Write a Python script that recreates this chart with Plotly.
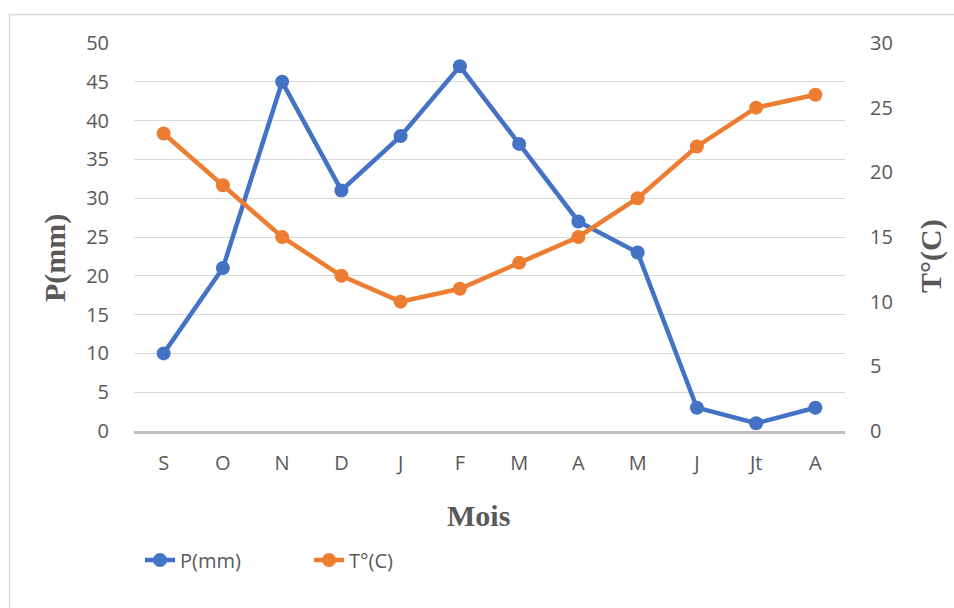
import plotly.graph_objects as go

# Monthly values (hydrological year, September to August)
months = ["S", "O", "N", "D", "J", "F", "M", "A", "M", "J", "Jt", "A"]
precip_mm = [10, 21, 45, 31, 38, 47, 37, 27, 23, 3, 1, 3]
temp_c = [23, 19, 15, 12, 10, 11, 13, 15, 18, 22, 25, 26]

p_ticks = [0, 5, 10, 15, 20, 25, 30, 35, 40, 45, 50]
t_ticks = [0, 5, 10, 15, 20, 25, 30]

BLUE = "#4472C4"
ORANGE = "#ED7D31"
TEXT = "#595959"
GRID = "#D9D9D9"

W, H = 954, 608
L, R, T, B = 134, 845, 43, 431  # plot area in pixels

x_idx = list(range(len(months)))

fig = go.Figure()
fig.add_trace(go.Scatter(
    x=x_idx, y=precip_mm, name="P(mm)", mode="lines+markers",
    line=dict(color=BLUE, width=4.5), marker=dict(color=BLUE, size=14),
    yaxis="y",
))
fig.add_trace(go.Scatter(
    x=x_idx, y=temp_c, name="T°(C)", mode="lines+markers",
    line=dict(color=ORANGE, width=4.5), marker=dict(color=ORANGE, size=14),
    yaxis="y2",
))


def px_x(px):
    return (px - L) / (R - L)


def px_y(py):
    return (B - py) / (B - T)


font = dict(family="Open Sans, Noto Sans, sans-serif", size=20, color=TEXT)
title_font = dict(family="Liberation Serif, Times New Roman, serif", size=30, color=TEXT)

fig.update_layout(
    width=W, height=H,
    margin=dict(l=L, r=W - R, t=T, b=H - B, pad=0),
    paper_bgcolor="white", plot_bgcolor="white",
    font=font,
    hovermode=False,
    showlegend=True,
    legend=dict(
        orientation="h", x=px_x(140), xanchor="left", y=px_y(560), yanchor="middle",
        font=font, bgcolor="rgba(0,0,0,0)", entrywidth=124, entrywidthmode="pixels",
        itemclick=False, itemdoubleclick=False,
    ),
    xaxis=dict(
        range=[-0.5, len(months) - 0.5], tickmode="array", tickvals=x_idx, ticktext=months,
        showgrid=False, zeroline=False, showline=True, linecolor="#BFBFBF", linewidth=3,
        ticks="outside", ticklen=12, tickcolor="rgba(0,0,0,0)", tickfont=font,
    ),
    yaxis=dict(
        range=[0, 50], tickmode="array", tickvals=p_ticks, showgrid=True, gridcolor=GRID,
        gridwidth=1.3, zeroline=False, showline=False, tickfont=font,
        ticks="outside", ticklen=20, tickcolor="rgba(0,0,0,0)",
    ),
    yaxis2=dict(
        range=[0, 30], tickmode="array", tickvals=t_ticks, overlaying="y", side="right",
        showgrid=False, zeroline=False, showline=False, tickfont=font,
        ticks="outside", ticklen=20, tickcolor="rgba(0,0,0,0)",
    ),
    annotations=[
        dict(text="<b>Mois</b>", xref="paper", yref="paper", x=px_x(478), y=px_y(515),
             xanchor="center", yanchor="middle", showarrow=False, font=title_font),
        dict(text="<b>P(mm)</b>", xref="paper", yref="paper", x=px_x(55), y=px_y(258),
             xanchor="center", yanchor="middle", showarrow=False, font=title_font,
             textangle=-90),
        dict(text="<b>T°(C)</b>", xref="paper", yref="paper", x=px_x(931), y=px_y(256),
             xanchor="center", yanchor="middle", showarrow=False, font=title_font,
             textangle=-90),
    ],
    shapes=[
        dict(type="rect", xref="paper", yref="paper",
             x0=px_x(9.5), x1=px_x(W + 20), y0=px_y(H + 20), y1=px_y(14.5),
             line=dict(color=GRID, width=1.5), fillcolor="rgba(0,0,0,0)", layer="below"),
    ],
)

fig.write_html("out.html", config=dict(displayModeBar=False))
